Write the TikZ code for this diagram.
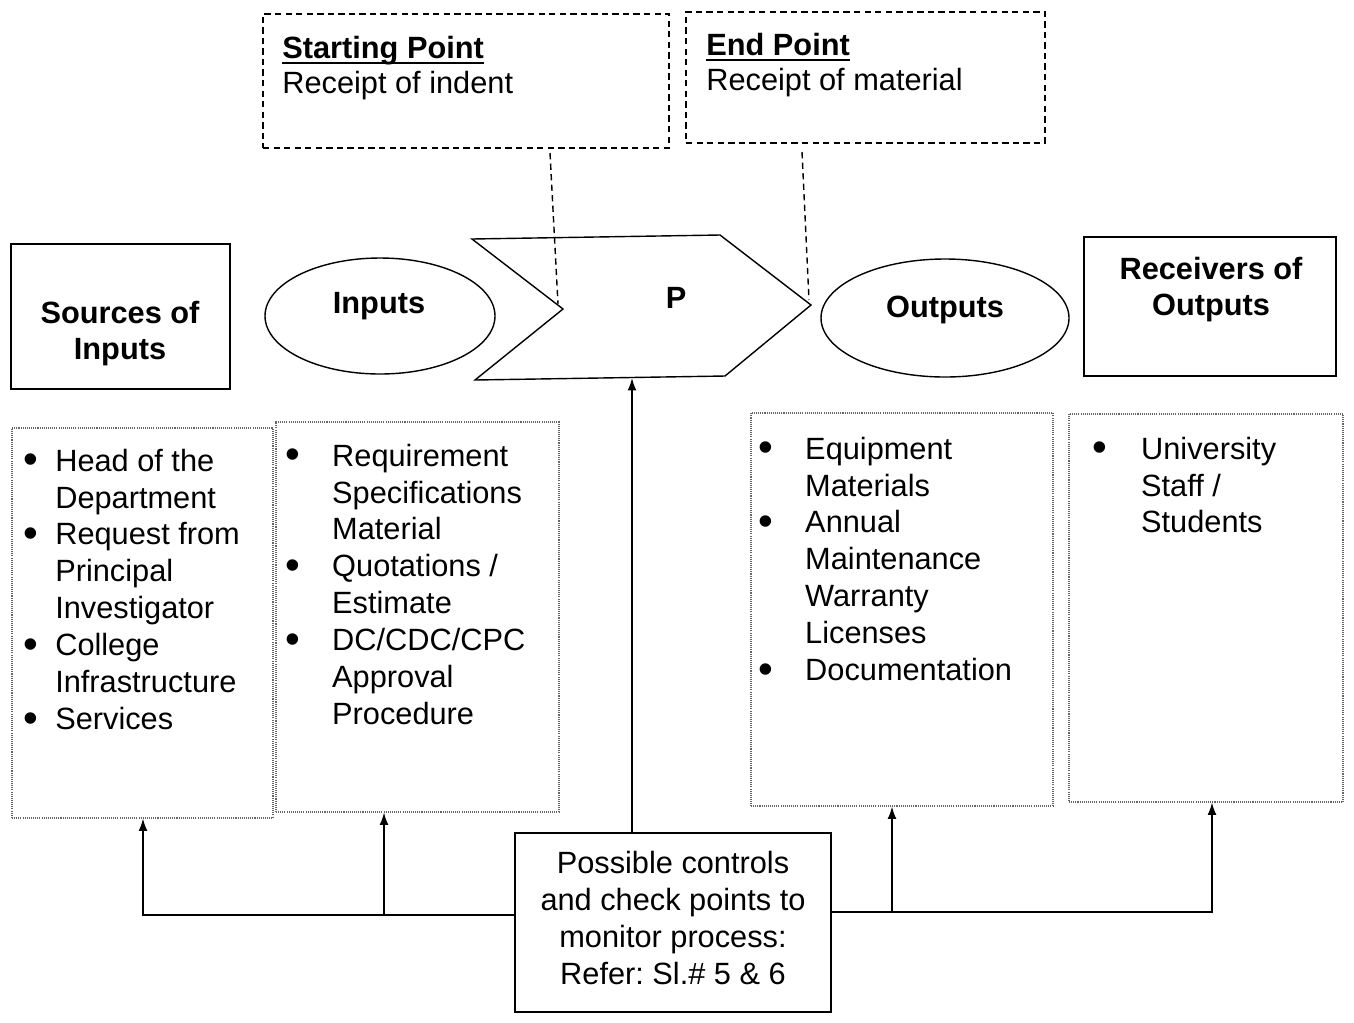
\documentclass[tikz,border=0pt]{standalone}
\usepackage{fontspec}
\setmainfont{Liberation Sans}
\usetikzlibrary{calc}
\usetikzlibrary{arrows.meta}
\usetikzlibrary{shapes.geometric}

\newlength{\unitpx}
\setlength{\unitpx}{0.02cm}
\newcommand{\diagfont}{\fontsize{17.5}{21}\selectfont}
\newcommand{\ulhead}[1]{\setbox0\hbox{\textbf{#1}}\rlap{\rule[-3.4pt]{\wd0}{1.3pt}}\box0}
\newcommand{\blt}{\raisebox{-1.5pt}{\fontsize{24}{21}\selectfont\textbullet}}

\tikzset{
  every node/.style={font=\diagfont, inner sep=0pt},
  head/.style={font=\diagfont\bfseries, align=center},
  solidbox/.style={draw, rectangle, line width=0.9pt},
  dashbox/.style={draw, rectangle, line width=0.8pt, dash pattern=on 3.6pt off 2.4pt},
  dotbox/.style={draw=black!60, rectangle, line width=0.6pt, dash pattern=on 0.6pt off 0.6pt},
  oval/.style={draw, ellipse, line width=0.8pt},
  uparrow/.style={line width=0.8pt, -{Latex[length=7pt,width=5pt]}},
}

\begin{document}
\begin{tikzpicture}[x=0.02cm, y=-0.02cm]

\useasboundingbox (0,0) rectangle (1354,1022);

\node[dashbox, minimum width=406\unitpx, minimum height=134\unitpx] (startbox) at (466,81) {};
\node[anchor=base west] (starthead) at (282,58) {\ulhead{Starting Point}};
\node[anchor=base west] (starttext) at (282,93) {Receipt of indent};

\node[dashbox, minimum width=359\unitpx, minimum height=131\unitpx] (endbox) at (865.5,77.5) {};
\node[anchor=base west] (endhead) at (706,55) {\ulhead{End Point}};
\node[anchor=base west] (endtext) at (706,90) {Receipt of material};

\coordinate (S1) at (550,153);
\coordinate (S2) at (558,304);
\coordinate (E1) at (802,152);
\coordinate (E2) at (809,300);

\coordinate (P1) at (472,239);
\coordinate (P2) at (720,235);
\coordinate (P3) at (811,305);
\coordinate (P4) at (725,376);
\coordinate (P5) at (475,380);
\coordinate (P6) at (563,309);

\draw[line width=0.8pt] (P1) -- (P2) -- (P3) -- (P4) -- (P5) -- (P6) -- cycle;
\node[anchor=base, font=\diagfont\bfseries] (proc) at (676,308) {P};

\draw[line width=0.8pt, dash pattern=on 3.6pt off 2.4pt] (S1) -- (S2);
\draw[line width=0.8pt, dash pattern=on 3.6pt off 2.4pt] (E1) -- (E2);

\node[solidbox, minimum width=219\unitpx, minimum height=145\unitpx] (sources) at (120.5,316.5) {};
\node[head] (sourcestext) at (120,333.5) {Sources of\\Inputs};

\node[oval, minimum width=230\unitpx, minimum height=116\unitpx] (inputs) at (380,316) {};
\node[anchor=base, font=\diagfont\bfseries] (inputstext) at (379,313) {Inputs};

\node[oval, minimum width=248\unitpx, minimum height=118\unitpx] (outputs) at (945,318) {};
\node[anchor=base, font=\diagfont\bfseries] (outputstext) at (945,317) {Outputs};

\node[solidbox, minimum width=252\unitpx, minimum height=139\unitpx] (receivers) at (1210,306.5) {};
\node[head] (receiverstext) at (1211,289.5) {Receivers of\\Outputs};

\node[dotbox, minimum width=261\unitpx, minimum height=390\unitpx] (srclist) at (142.5,623) {};
\node[anchor=north west] (srcitems) at (23.5,445) {\begin{tabular}{@{}p{17.9pt}@{}l@{}}
\blt & Head of the\\
 & Department\\
\blt & Request from\\
 & Principal\\
 & Investigator\\
\blt & College\\
 & Infrastructure\\
\blt & Services
\end{tabular}};

\node[dotbox, minimum width=283\unitpx, minimum height=390\unitpx] (inlist) at (417.5,617) {};
\node[anchor=north west] (initems) at (285.5,440) {\begin{tabular}{@{}p{26.4pt}@{}l@{}}
\blt & Requirement\\
 & Specifications\\
 & Material\\
\blt & Quotations /\\
 & Estimate\\
\blt & DC/CDC/CPC\\
 & Approval\\
 & Procedure
\end{tabular}};

\node[dotbox, minimum width=302\unitpx, minimum height=393\unitpx] (outlist) at (902,609.5) {};
\node[anchor=north west] (outitems) at (758.5,433) {\begin{tabular}{@{}p{26.4pt}@{}l@{}}
\blt & Equipment\\
 & Materials\\
\blt & Annual\\
 & Maintenance\\
 & Warranty\\
 & Licenses\\
\blt & Documentation
\end{tabular}};

\node[dotbox, minimum width=274\unitpx, minimum height=388\unitpx] (rcvlist) at (1206,608) {};
\node[anchor=north west] (rcvitems) at (1092.5,433) {\begin{tabular}{@{}p{27.5pt}@{}l@{}}
\blt & University\\
 & Staff /\\
 & Students
\end{tabular}};

\node[solidbox, minimum width=316\unitpx, minimum height=179\unitpx] (ctrl) at (673,922.5) {};
\node[align=center] (ctrltext) at (673,918) {Possible controls\\and check points to\\monitor process:\\Refer:\ Sl.\#\ 5 \& 6};

\coordinate (J1) at (143,915);
\coordinate (J2) at (384,915);
\coordinate (J3) at (892,912);
\coordinate (J4) at (1212,912);
\coordinate (PB) at (632,378);

\draw[uparrow] (PB |- ctrl.north) -- (PB);
\draw[uparrow] (ctrl.west |- J1) -- (J1) -- (J1 |- srclist.south);
\draw[uparrow] (J2) -- (J2 |- inlist.south);
\draw[uparrow] (ctrl.east |- J4) -- (J4) -- (J4 |- rcvlist.south);
\draw[uparrow] (J3) -- (J3 |- outlist.south);

\end{tikzpicture}
\end{document}
